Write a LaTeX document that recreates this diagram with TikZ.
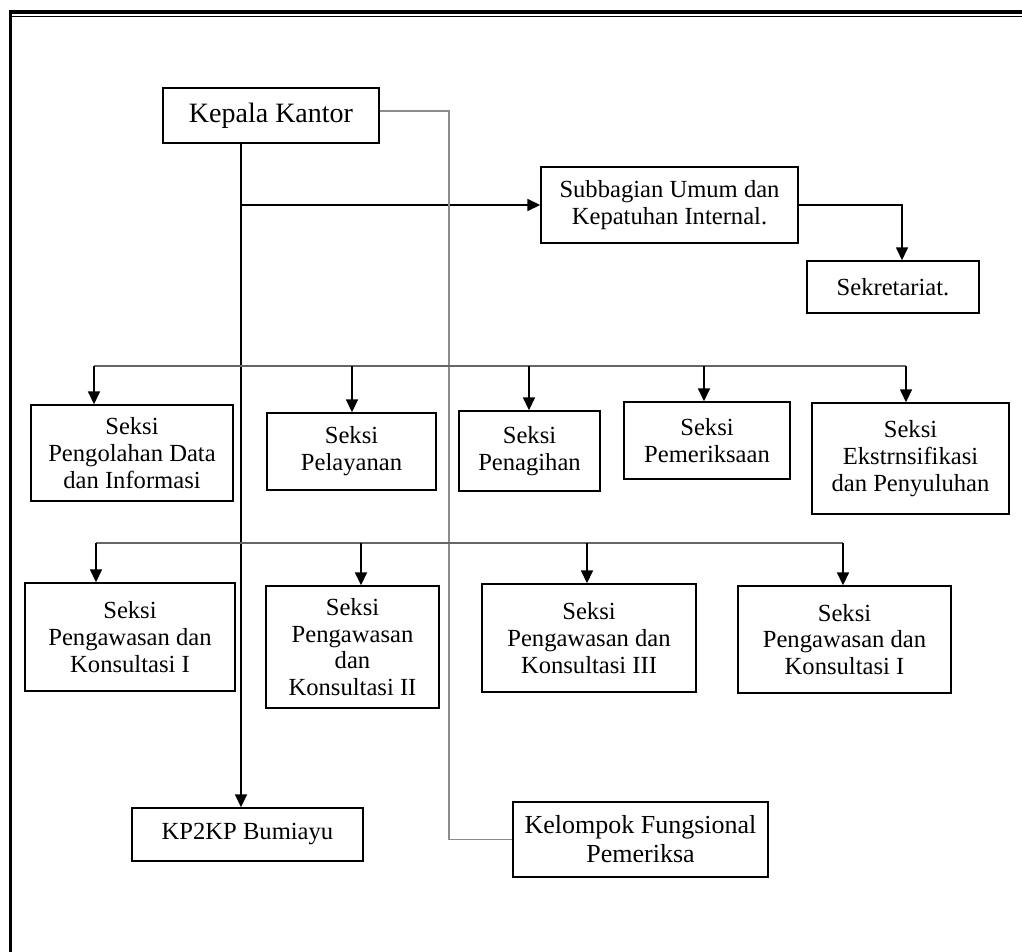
\documentclass[tikz,border=0pt]{standalone}
\usepackage{fontspec}
\setmainfont{Liberation Serif}
\usepackage{tikz}
\usetikzlibrary{arrows.meta, positioning, calc}
\usepackage{xcolor}

\tikzset{
  unit/.style={x=0.5pt, y=-0.5pt},
  box/.style={draw, line width=0.7pt, align=center, inner sep=0pt,
    font=\fontsize{12.3}{13.4}\selectfont},
  arr/.style={-{Triangle[length=6.5pt, width=6pt]}, line width=0.8pt},
  bus/.style={line width=0.8pt, black!60},
  gline/.style={line width=0.7pt, black!45}
}

\begin{document}
\begin{tikzpicture}[unit]
  \useasboundingbox (0,0) rectangle (1022,952);
  % page frame
  \draw[line width=2pt] (9,12) -- (1022,12);
  \draw[line width=0.6pt] (9,16.5) -- (1022,16.5);
  \draw[line width=1.5pt] (10.5,14) -- (10.5,952);

  % top level
  \node[box, minimum width=108pt, minimum height=27.5pt,
    font=\fontsize{14}{15}\selectfont] (kepala) at (271,115.5) {Kepala Kantor};
  \node[box, minimum width=128.5pt, minimum height=38pt] (subbag) at (669.5,205)
    {Subbagian Umum dan\\Kepatuhan Internal.};
  \node[box, minimum width=86pt, minimum height=26pt] (sekret) at (893,287) {Sekretariat.};

  % seksi, first row
  \node[box, minimum width=101pt, minimum height=48pt] (olah) at (132,453)
    {Seksi\\Pengolahan Data\\dan Informasi};
  \node[box, minimum width=84.5pt, minimum height=38.5pt] (layan) at (351.5,451.5)
    {Seksi\\Pelayanan};
  \node[box, minimum width=70.5pt, minimum height=40pt] (tagih) at (529.5,451)
    {Seksi\\Penagihan};
  \node[box, minimum width=83pt, minimum height=38.5pt] (periksa) at (707,440.5)
    {Seksi\\Pemeriksaan};
  \node[box, minimum width=98.5pt, minimum height=55.5pt] (ekstens) at (910.5,458.5)
    {Seksi\\Ekstrnsifikasi\\dan Penyuluhan};

  % seksi, second row
  \node[box, minimum width=105pt, minimum height=54pt] (pk1) at (130,637)
    {Seksi\\Pengawasan dan\\Konsultasi I};
  \node[box, minimum width=86.5pt, minimum height=61pt] (pk2) at (352.5,647)
    {Seksi\\Pengawasan\\dan\\Konsultasi II};
  \node[box, minimum width=107pt, minimum height=54pt] (pk3) at (589,638)
    {Seksi\\Pengawasan dan\\Konsultasi III};
  \node[box, minimum width=106.5pt, minimum height=53.5pt] (pk4) at (844.5,639.5)
    {Seksi\\Pengawasan dan\\Konsultasi I};

  % bottom
  \node[box, minimum width=115.5pt, minimum height=26.5pt] (kp2kp) at (247.5,834.5)
    {KP2KP Bumiayu};
  \node[box, minimum width=127.5pt, minimum height=37.5pt,
    font=\fontsize{13}{14.5}\selectfont] (kelompok) at (640.5,839.5)
    {Kelompok Fungsional\\Pemeriksa};

  % spines
  \coordinate (spine) at (241,143);
  \coordinate (fv) at (449,111);
  \draw[arr] (spine) -- (spine |- kp2kp.north);
  \draw[arr] (spine |- subbag.west) -- (subbag.west);
  \draw[gline] (kepala.east |- fv) -| (fv |- kelompok.west) -- (kelompok.west);
  \draw[arr] (subbag.east) -| ([xshift=4.5pt]sekret.north);

  % buses
  \draw[bus] (94,366) -- (906,366);
  \foreach \tx/\nd in {94/olah, 352/layan, 529/tagih, 704/periksa, 906/ekstens} {
    \coordinate (tap) at (\tx,366);
    \draw[arr] (tap) -- (tap |- \nd.north);
  }
  \draw[bus] (96,543) -- (843,543);
  \foreach \tx/\nd in {96/pk1, 361/pk2, 587/pk3, 843/pk4} {
    \coordinate (tap) at (\tx,543);
    \draw[arr] (tap) -- (tap |- \nd.north);
  }
\end{tikzpicture}
\end{document}
